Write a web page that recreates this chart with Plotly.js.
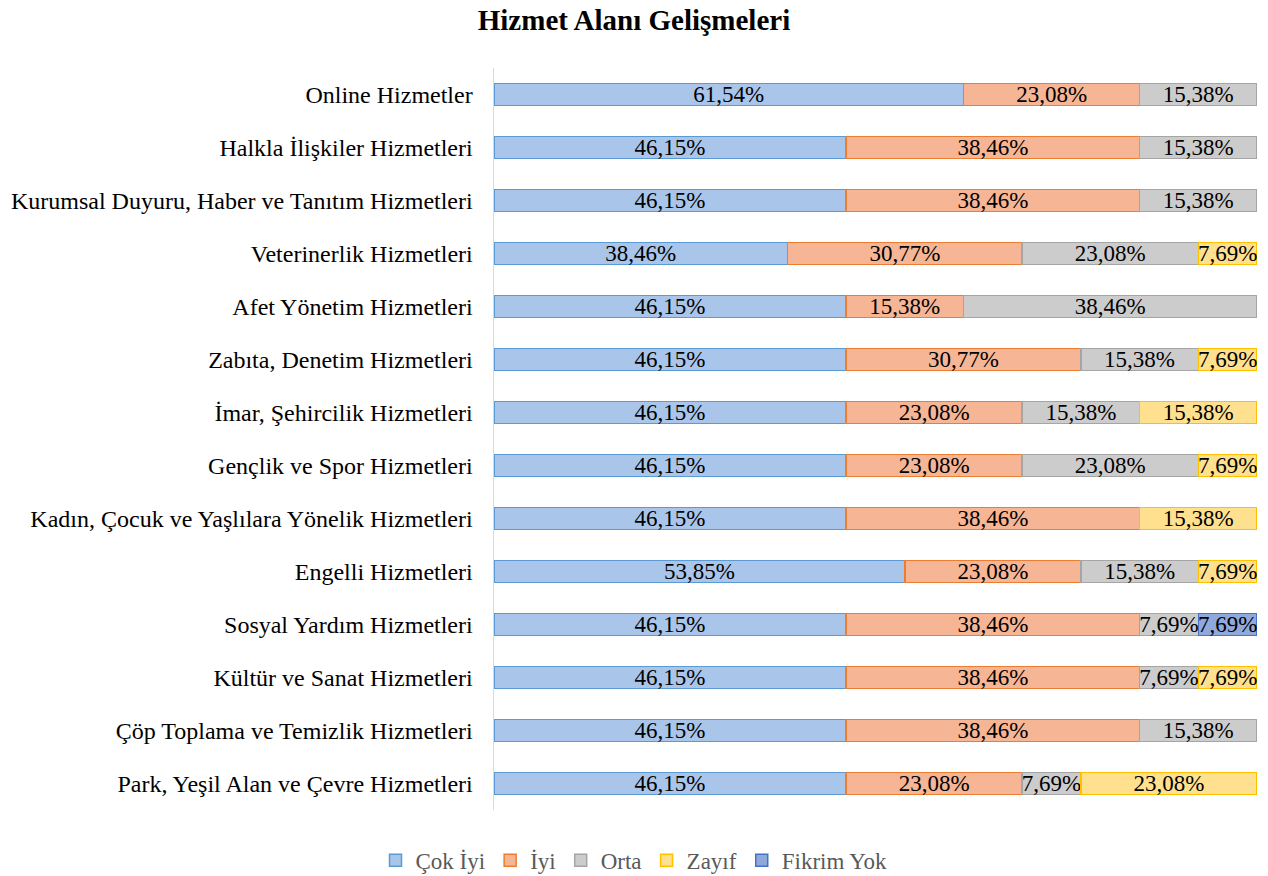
<!DOCTYPE html>
<html>
<head>
<meta charset="utf-8">
<script src="https://cdn.plot.ly/plotly-3.0.1.min.js"></script>
<style>body{margin:0;background:#fff;} #chart{width:1268px;height:876px;}</style>
</head>
<body>
<div id="chart"></div>
<script>
// categories listed bottom to top (plotly draws the first one at the bottom)
var kategoriler = [
   "Park, Yeşil Alan ve Çevre Hizmetleri",
   "Çöp Toplama ve Temizlik Hizmetleri",
   "Kültür ve Sanat Hizmetleri",
   "Sosyal Yardım Hizmetleri",
   "Engelli Hizmetleri",
   "Kadın, Çocuk ve Yaşlılara Yönelik Hizmetleri",
   "Gençlik ve Spor Hizmetleri",
   "İmar, Şehircilik Hizmetleri",
   "Zabıta, Denetim Hizmetleri",
   "Afet Yönetim Hizmetleri",
   "Veterinerlik Hizmetleri",
   "Kurumsal Duyuru, Haber ve Tanıtım Hizmetleri",
   "Halkla İlişkiler Hizmetleri",
   "Online Hizmetler"
];
var cokIyi    = [46.15, 46.15, 46.15, 46.15, 53.85, 46.15, 46.15, 46.15, 46.15, 46.15, 38.46, 46.15, 46.15, 61.54];
var iyi       = [23.08, 38.46, 38.46, 38.46, 23.08, 38.46, 23.08, 23.08, 30.77, 15.38, 30.77, 38.46, 38.46, 23.08];
var orta      = [7.69, 15.38, 7.69, 7.69, 15.38, null, 23.08, 15.38, 15.38, 38.46, 23.08, 15.38, 15.38, 15.38];
var zayif     = [23.08, null, 7.69, null, 7.69, 15.38, 7.69, 15.38, 7.69, null, 7.69, null, null, null];
var fikrimYok = [null, null, null, 7.69, null, null, null, null, null, null, null, null, null, null];

function seri(ad, deger, dolgu, kenar) {
   return {
      type: "bar",
      orientation: "h",
      name: ad,
      y: kategoriler,
      x: deger,
      texttemplate: "%{x:.2f}%",
      textposition: "inside",
      insidetextanchor: "middle",
      constraintext: "none",
      textfont: { family: "Liberation Serif", size: 23, color: "#000" },
      marker: { color: dolgu, line: { color: kenar, width: 1.5 } },
      hoverinfo: "none",
   };
}

var data = [
   seri("Çok İyi", cokIyi, "#a9c5ea", "#5b9bd5"),
   seri("İyi", iyi, "#f6b594", "#ed7d31"),
   seri("Orta", orta, "#cccccc", "#a5a5a5"),
   seri("Zayıf", zayif, "#ffe08f", "#ffc000"),
   seri("Fikrim Yok", fikrimYok, "#90a9dc", "#4472c4"),
];

var layout = {
   width: 1268,
   height: 876,
   barmode: "stack",
   bargap: 0.59,
   separators: ",.",
   paper_bgcolor: "#fff",
   plot_bgcolor: "#fff",
   font: { family: "Liberation Serif", size: 24, color: "#000" },
   title: {
      text: "<b>Hizmet Alanı Gelişmeleri</b>",
      font: { family: "Liberation Serif", size: 29, color: "#000" },
      x: 0.5,
      xref: "container",
      y: 0.977,
      yref: "container",
      yanchor: "middle",
   },
   margin: { l: 494, r: 11, t: 68, b: 66 },
   xaxis: {
      range: [0, 100],
      visible: false,
      fixedrange: true,
   },
   yaxis: {
      showline: true,
      linecolor: "#d9d9d9",
      linewidth: 1.5,
      showgrid: false,
      ticks: "",
      ticklen: 0,
      ticklabelstandoff: 15,
      tickfont: { family: "Liberation Serif", size: 24, color: "#000" },
      automargin: false,
   },
   showlegend: true,
   legend: {
      orientation: "h",
      x: 0.5,
      xref: "container",
      xanchor: "center",
      y: 0.018,
      yref: "container",
      yanchor: "middle",
      font: { family: "Liberation Serif", size: 23, color: "#595959" },
      traceorder: "normal",
      itemwidth: 30,
   },
};

Plotly.newPlot("chart", data, layout, { displayModeBar: false, staticPlot: true });
</script>
</body>
</html>
